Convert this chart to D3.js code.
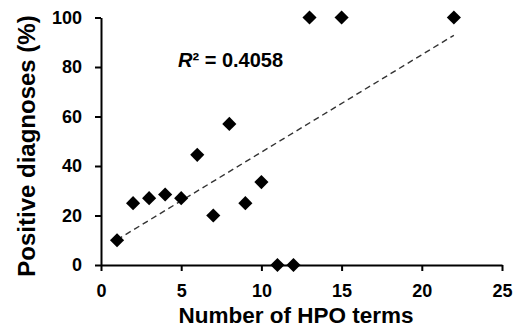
<!DOCTYPE html>
<html lang="en">
<head>
  <meta charset="UTF-8">
  <title>HPO terms vs diagnoses</title>
  <script src="https://d3js.org/d3.v7.min.js"></script>
  <style>
    body { margin: 0; background: white; }
    svg { font-family: "Liberation Sans", Arial, Helvetica, sans-serif; font-weight: bold; }
    .axis path, .axis line { stroke: black; stroke-width: 2px; }
    .axis text { font-size: 18px; font-weight: bold; fill: black; font-family: "Liberation Sans", Arial, sans-serif; }
    .title { fill: black; }
    .trend { stroke: #333; stroke-width: 1.4px; stroke-dasharray: 6,4; fill: none; }
  </style>
</head>
<body>
<svg id="svg" width="518" height="329"></svg>
<script>
// data
const hpoTerms = [1, 2, 3, 4, 5, 6, 7, 8, 9, 10, 11, 12, 13, 15, 22];
const positivePct = [10, 25, 27, 28.5, 27, 44.5, 20, 57, 25, 33.5, 0, 0, 100, 100, 100];
const xTicks = [0, 5, 10, 15, 20, 25];
const yTicks = [0, 20, 40, 60, 80, 100];
const r2Label = "0.4058";

const svg = d3.select("#svg");
const x = d3.scaleLinear().domain([0, 25]).range([101, 502]);
const y = d3.scaleLinear().domain([0, 100]).range([265, 17.5]);

// axes
svg.append("g")
  .attr("class", "axis")
  .attr("transform", "translate(0," + y(0) + ")")
  .call(d3.axisBottom(x).tickValues(xTicks).tickSize(6).tickSizeOuter(0).tickPadding(13));

svg.append("g")
  .attr("class", "axis")
  .attr("transform", "translate(" + x(0) + ",0)")
  .call(d3.axisLeft(y).tickValues(yTicks).tickSize(6).tickSizeOuter(0).tickPadding(13));

// linear fit
const n = hpoTerms.length;
const mx = d3.mean(hpoTerms), my = d3.mean(positivePct);
var sxy = 0, sxx = 0;
for (var i = 0; i < n; i++) {
  sxy += (hpoTerms[i] - mx) * (positivePct[i] - my);
  sxx += (hpoTerms[i] - mx) * (hpoTerms[i] - mx);
}
const slope = sxy / sxx;
const intercept = my - slope * mx;
const x0 = d3.min(hpoTerms), x1 = d3.max(hpoTerms);

svg.append("line")
  .attr("class", "trend")
  .attr("x1", x(x0)).attr("y1", y(intercept + slope * x0))
  .attr("x2", x(x1)).attr("y2", y(intercept + slope * x1));

// points
svg.append("g").selectAll("path")
  .data(hpoTerms.map((d, i) => ({x: d, y: positivePct[i]})))
  .join("path")
  .attr("d", d3.symbol().type(d3.symbolSquare).size(100))
  .attr("transform", d => "translate(" + x(d.x) + "," + y(d.y) + ") rotate(45)")
  .attr("fill", "black");

// R squared
const r2 = svg.append("text")
  .attr("x", 178).attr("y", 67)
  .attr("font-size", 20)
  .attr("fill", "black");
r2.append("tspan").attr("font-style", "italic").text("R");
r2.append("tspan").text("\u00B2 = " + r2Label);

// axis titles
svg.append("text")
  .attr("class", "title")
  .attr("x", 296).attr("y", 323)
  .attr("font-size", 22.5)
  .attr("text-anchor", "middle")
  .text("Number of HPO terms");

svg.append("text")
  .attr("class", "title")
  .attr("transform", "translate(35,146) rotate(-90)")
  .attr("font-size", 24)
  .attr("text-anchor", "middle")
  .text("Positive diagnoses (%)");
</script>
</body>
</html>
